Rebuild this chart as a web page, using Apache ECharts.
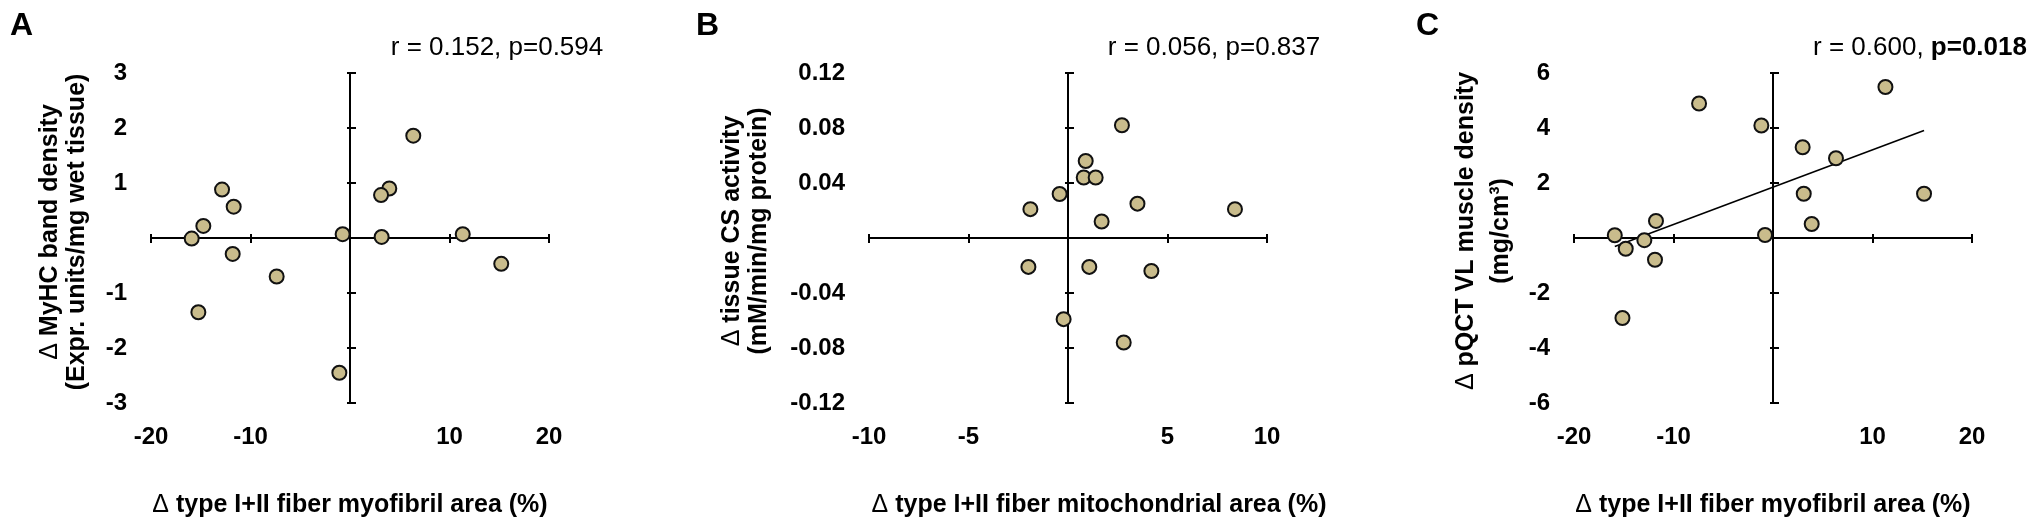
<!DOCTYPE html>
<html><head><meta charset="utf-8">
<script src="https://cdn.jsdelivr.net/npm/echarts@6/dist/echarts.min.js"></script>
<style>html,body{margin:0;padding:0;background:#fff}#c{width:2033px;height:525px}</style>
</head><body><div id="c"></div>
<script>
const FONT = '"Liberation Sans", Arial, Helvetica, sans-serif';

// Panel A: Δ type I+II fiber myofibril area (%) vs Δ MyHC band density
const aX = [6.36, 3.95, 3.12, 3.18, -0.74, -12.86, -11.69, -14.74, -15.91, -11.79, -7.37, -15.24, -1.07, 11.33, 15.2];
const aY = [1.86, 0.90, 0.78, 0.02, 0.07, 0.88, 0.57, 0.22, -0.01, -0.29, -0.70, -1.35, -2.45, 0.07, -0.47];
// Panel B: Δ type I+II fiber mitochondrial area (%) vs Δ tissue CS activity
const bX = [2.71, 0.89, 0.79, 1.39, -0.42, -1.89, 3.49, 8.39, 1.69, -1.99, 1.07, 4.19, -0.22, 2.80];
const bY = [0.082, 0.056, 0.044, 0.044, 0.032, 0.021, 0.025, 0.021, 0.012, -0.021, -0.021, -0.024, -0.059, -0.076];
// Panel C: Δ type I+II fiber myofibril area (%) vs Δ pQCT VL muscle density
const cX = [-7.43, -1.17, 11.3, 2.98, 6.33, 3.09, 15.18, 3.89, -0.8, -15.9, -11.76, -12.93, -14.8, -11.86, -15.13];
const cY = [4.89, 4.09, 5.49, 3.30, 2.90, 1.61, 1.61, 0.51, 0.11, 0.10, 0.62, -0.08, -0.39, -0.79, -2.91];

// Tick labels
const aXTicks = ['-20', '-10', '10', '20'];
const aYTicks = ['3', '2', '1', '-1', '-2', '-3'];
const bXTicks = ['-10', '-5', '5', '10'];
const bYTicks = ['0.12', '0.08', '0.04', '-0.04', '-0.08', '-0.12'];
const cXTicks = ['-20', '-10', '10', '20'];
const cYTicks = ['6', '4', '2', '-2', '-4', '-6'];

// Texts
const panelLetters = ['A', 'B', 'C'];
const statsPlain = ['r = 0.152, p=0.594', 'r = 0.056, p=0.837', 'r = 0.600, '];
const statsBold = ['', '', 'p=0.018'];
const xTitles = ['type I+II fiber myofibril area (%)', 'type I+II fiber mitochondrial area (%)', 'type I+II fiber myofibril area (%)'];
const yTitles1 = ['MyHC band density', 'tissue CS activity', 'pQCT VL muscle density'];
const yTitles2 = ['(Expr. units/mg wet tissue)', '(mM/min/mg protein)', '(mg/cm\u00B3)'];

const gridLefts = [151, 869, 1574];
const GRID_TOP = 73, GRID_W = 398, GRID_H = 330;

function fmt(ticks, dec) {
  return function (v) { const s = Number(v).toFixed(dec); return ticks.indexOf(s) >= 0 ? s : ''; };
}
const lineStyle = { color: '#000', width: 2 };
const tickFont = { fontFamily: FONT, fontSize: 24, fontWeight: 'bold', color: '#000' };

function xAxesFor(gi, min, max, interval, ticks, dec, padLeft) {
  return [{
    gridIndex: gi, type: 'value', min: min, max: max, interval: interval, position: 'bottom',
    axisLine: { show: true, onZero: true, lineStyle: lineStyle },
    axisTick: { show: true, inside: false, length: 5, lineStyle: lineStyle },
    axisLabel: Object.assign({ margin: 22, formatter: fmt(ticks, dec) }, tickFont),
    splitLine: { show: false },
    name: '{d|\u0394} ' + xTitles[gi], nameLocation: 'middle', nameGap: 90,
    nameTextStyle: {
      fontFamily: FONT, fontSize: 25, fontWeight: 'bold', color: '#000',
      padding: [0, 0, 0, padLeft],
      rich: { d: { fontFamily: FONT, fontSize: 25, fontWeight: 'normal', color: '#000' } }
    }
  }, {
    gridIndex: gi, type: 'value', min: min, max: max, interval: interval, position: 'top',
    axisLine: { show: false, onZero: true },
    axisTick: { show: true, inside: false, length: 4, lineStyle: lineStyle },
    axisLabel: { show: false }, splitLine: { show: false }
  }];
}
function yAxesFor(gi, min, max, interval, ticks, dec) {
  return [{
    gridIndex: gi, type: 'value', min: min, max: max, interval: interval, position: 'left',
    axisLine: { show: true, onZero: true, lineStyle: lineStyle },
    axisTick: { show: true, inside: false, length: 3, lineStyle: lineStyle },
    axisLabel: Object.assign({ margin: 24, formatter: fmt(ticks, dec) }, tickFont),
    splitLine: { show: false }
  }, {
    gridIndex: gi, type: 'value', min: min, max: max, interval: interval, position: 'right',
    axisLine: { show: false, onZero: true },
    axisTick: { show: true, inside: false, length: 6, lineStyle: lineStyle },
    axisLabel: { show: false }, splitLine: { show: false }
  }];
}

function zip(xs, ys) { return xs.map(function (x, i) { return [x, ys[i]]; }); }
function regressionLine(xs, ys) {
  const n = xs.length;
  const mx = xs.reduce(function (a, b) { return a + b; }, 0) / n;
  const my = ys.reduce(function (a, b) { return a + b; }, 0) / n;
  let sxy = 0, sxx = 0;
  for (let i = 0; i < n; i++) { sxy += (xs[i] - mx) * (ys[i] - my); sxx += (xs[i] - mx) * (xs[i] - mx); }
  const b = sxy / sxx, a = my - b * mx;
  const x0 = Math.min.apply(null, xs), x1 = Math.max.apply(null, xs);
  return [[x0, a + b * x0], [x1, a + b * x1]];
}

const pointStyle = { color: '#c9bc8c', borderColor: '#111', borderWidth: 2, opacity: 1 };
function scatter(gi, xs, ys) {
  return {
    type: 'scatter', xAxisIndex: gi * 2, yAxisIndex: gi * 2, data: zip(xs, ys),
    symbol: 'circle', symbolSize: 14, itemStyle: pointStyle, z: 3, silent: true,
    emphasis: { disabled: true }
  };
}

const graphics = [];
const letterX = [10, 696, 1416];
panelLetters.forEach(function (t, i) {
  graphics.push({ type: 'text', x: letterX[i], y: 26,
    style: { text: t, font: 'bold 32px ' + FONT, fill: '#000', textAlign: 'left', textVerticalAlign: 'middle', align: 'left', verticalAlign: 'middle' } });
});
const statsCX = [497, 1214, 1920];
statsPlain.forEach(function (t, i) {
  const txt = statsBold[i] ? t + '{b|' + statsBold[i] + '}' : t;
  graphics.push({ type: 'text', x: statsCX[i], y: 48,
    style: { text: txt, font: '26px ' + FONT, fill: '#000', textAlign: 'center', textVerticalAlign: 'middle', align: 'center', verticalAlign: 'middle',
      rich: { b: { font: 'bold 26px ' + FONT, fill: '#000', fontWeight: 'bold', fontSize: 26, fontFamily: FONT } } } });
});
const yT1X = [50, 732, 1466], yT2X = [77, 759, 1501], yTY = [232, 231, 231];
[0, 1, 2].forEach(function (i) {
  graphics.push({ type: 'text', x: yT1X[i], y: yTY[i], rotation: Math.PI / 2,
    style: { text: '{d|\u0394} ' + yTitles1[i], font: 'bold 25px ' + FONT, fill: '#000', textAlign: 'center', textVerticalAlign: 'middle', align: 'center', verticalAlign: 'middle',
      rich: { d: { font: '25px ' + FONT, fontSize: 25, fontFamily: FONT, fontWeight: 'normal', fill: '#000' } } } });
  graphics.push({ type: 'text', x: yT2X[i], y: yTY[i], rotation: Math.PI / 2,
    style: { text: yTitles2[i], font: 'bold 25px ' + FONT, fill: '#000', textAlign: 'center', textVerticalAlign: 'middle', align: 'center', verticalAlign: 'middle' } });
});

const option = {
  animation: false,
  backgroundColor: '#fff',
  grid: gridLefts.map(function (l) {
    return { left: l, top: GRID_TOP, width: GRID_W, height: GRID_H, containLabel: false, outerBoundsMode: 'none' };
  }),
  xAxis: [].concat(
    xAxesFor(0, -20, 20, 10, aXTicks, 0, 0),
    xAxesFor(1, -10, 10, 5, bXTicks, 0, 62),
    xAxesFor(2, -20, 20, 10, cXTicks, 0, 0)
  ),
  yAxis: [].concat(
    yAxesFor(0, -3, 3, 1, aYTicks, 0),
    yAxesFor(1, -0.12, 0.12, 0.04, bYTicks, 2),
    yAxesFor(2, -6, 6, 2, cYTicks, 0)
  ),
  series: [
    scatter(0, aX, aY),
    scatter(1, bX, bY),
    {
      type: 'line', xAxisIndex: 4, yAxisIndex: 4, data: regressionLine(cX, cY),
      symbol: 'none', lineStyle: { color: '#000', width: 1.6 }, z: 2, silent: true
    },
    scatter(2, cX, cY)
  ],
  graphic: { elements: graphics }
};
const chart = echarts.init(document.getElementById('c'), null, { renderer: 'canvas' });
chart.setOption(option);
</script>
</body></html>
